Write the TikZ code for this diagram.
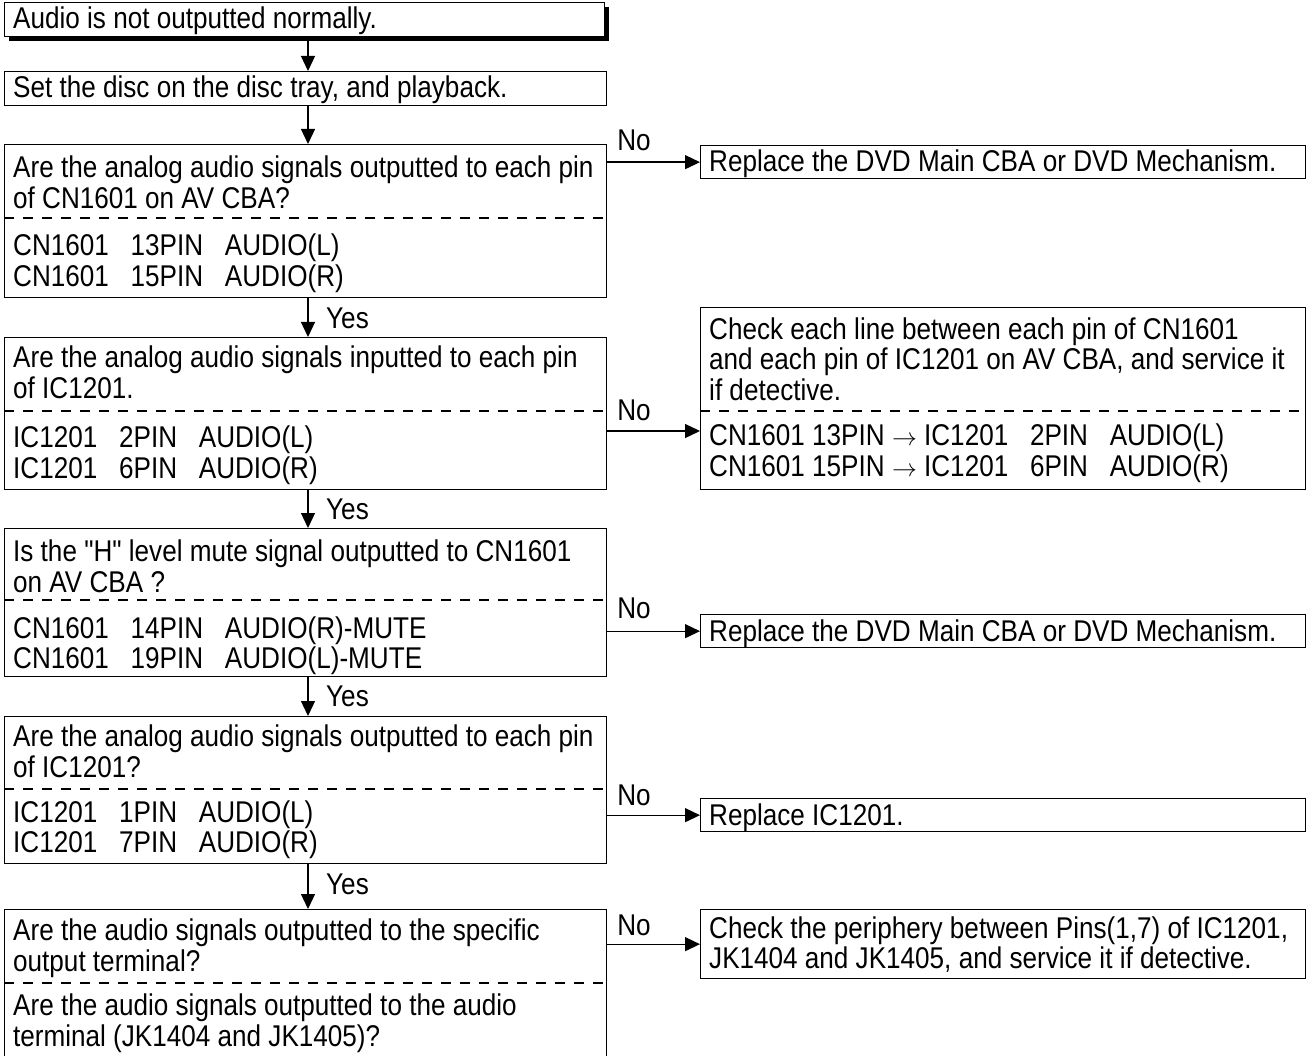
\documentclass[tikz,border=0pt]{standalone}
\usepackage{fontspec}
\setmainfont{Liberation Sans}[FakeStretch=0.87,Ligatures=TeXOff]
\usetikzlibrary{arrows.meta}
\newcommand{\fsz}{\fontsize{30}{31}\selectfont}
\newcommand{\gp}{\ \ \ }
\begin{document}
\begin{tikzpicture}[x=1pt,y=-1pt,
  box/.style={draw, line width=1.3pt, rectangle, inner sep=0pt, anchor=north west, fill=white},
  txt/.style={inner sep=0pt, anchor=base west, font=\fsz},
  lbl/.style={inner sep=0pt, anchor=base, font=\fsz},
  arr/.style={line width=1.3pt, -{Triangle[length=15pt,width=14pt]}},
  dsh/.style={line width=1.2pt, dash pattern=on 10pt off 9pt}]
\useasboundingbox (0,0) rectangle (1308,1056);
\clip (0,0) rectangle (1308,1056);
\coordinate (ax) at (308,0);
% left column boxes
\node[fill=black, inner sep=0pt, anchor=north west, minimum width=600pt, minimum height=34pt] (sh) at (9,7) {};
\node[box, minimum width=600pt, minimum height=34pt] (b1) at (4,2) {};
\node[box, minimum width=602pt, minimum height=34pt] (b2) at (4,71) {};
\node[box, minimum width=602pt, minimum height=153pt] (b3) at (4,144) {};
\node[box, minimum width=602pt, minimum height=152pt] (b4) at (4,337) {};
\node[box, minimum width=602pt, minimum height=148pt] (b5) at (4,528) {};
\node[box, minimum width=602pt, minimum height=147pt] (b6) at (4,716) {};
\node[box, minimum width=602pt, minimum height=170pt] (b7) at (4,909) {};
% right column boxes
\node[box, minimum width=605pt, minimum height=33pt] (r1) at (700,145) {};
\node[box, minimum width=605pt, minimum height=182pt] (r2) at (700,307) {};
\node[box, minimum width=605pt, minimum height=33pt] (r3) at (700,614) {};
\node[box, minimum width=605pt, minimum height=33pt] (r4) at (700,798) {};
\node[box, minimum width=605pt, minimum height=69pt] (r5) at (700,909) {};
% dashed dividers
\draw[dsh] (b3.west |- 0,218) -- (b3.east |- 0,218);
\draw[dsh] (b4.west |- 0,411) -- (b4.east |- 0,411);
\draw[dsh] (b5.west |- 0,600) -- (b5.east |- 0,600);
\draw[dsh] (b6.west |- 0,789) -- (b6.east |- 0,789);
\draw[dsh] (b7.west |- 0,983) -- (b7.east |- 0,983);
\draw[dsh] (r2.west |- 0,411) -- (r2.east |- 0,411);
% texts
\node[txt] (t1) at (13,29) {Audio is not outputted normally.};
\node[txt] (t2) at (13,98) {Set the disc on the disc tray, and playback.};
\node[txt] (t3a) at (13,178) {Are the analog audio signals outputted to each pin};
\node[txt] (t3b) at (13,209) {of CN1601 on AV CBA?};
\node[txt] (t3c) at (13,256) {CN1601\gp 13PIN\gp AUDIO(L)};
\node[txt] (t3d) at (13,287) {CN1601\gp 15PIN\gp AUDIO(R)};
\node[txt] (t4a) at (13,367) {Are the analog audio signals inputted to each pin};
\node[txt] (t4b) at (13,398) {of IC1201.};
\node[txt] (t4c) at (13,447) {IC1201\gp 2PIN\gp AUDIO(L)};
\node[txt] (t4d) at (13,478) {IC1201\gp 6PIN\gp AUDIO(R)};
\node[txt] (t5a) at (13,561) {Is the "H" level mute signal outputted to CN1601};
\node[txt] (t5b) at (13,592) {on AV CBA ?};
\node[txt] (t5c) at (13,638) {CN1601\gp 14PIN\gp AUDIO(R)-MUTE};
\node[txt] (t5d) at (13,668) {CN1601\gp 19PIN\gp AUDIO(L)-MUTE};
\node[txt] (t6a) at (13,746) {Are the analog audio signals outputted to each pin};
\node[txt] (t6b) at (13,777) {of IC1201?};
\node[txt] (t6c) at (13,822) {IC1201\gp 1PIN\gp AUDIO(L)};
\node[txt] (t6d) at (13,852) {IC1201\gp 7PIN\gp AUDIO(R)};
\node[txt] (t7a) at (13,940) {Are the audio signals outputted to the specific};
\node[txt] (t7b) at (13,971) {output terminal?};
\node[txt] (t7c) at (13,1015) {Are the audio signals outputted to the audio};
\node[txt] (t7d) at (13,1046) {terminal (JK1404 and JK1405)?};
\node[txt] (s1) at (709,172) {Replace the DVD Main CBA or DVD Mechanism.};
\node[txt] (s2a) at (709,339) {Check each line between each pin of CN1601};
\node[txt] (s2b) at (709,369) {and each pin of IC1201 on AV CBA, and service it};
\node[txt] (s2c) at (709,400) {if detective.};
\node[txt] (s2d) at (709,445) {CN1601 13PIN $\rightarrow$ IC1201\gp 2PIN\gp AUDIO(L)};
\node[txt] (s2e) at (709,476) {CN1601 15PIN $\rightarrow$ IC1201\gp 6PIN\gp AUDIO(R)};
\node[txt] (s3) at (709,641) {Replace the DVD Main CBA or DVD Mechanism.};
\node[txt] (s4) at (709,825) {Replace IC1201.};
\node[txt] (s5a) at (709,938) {Check the periphery between Pins(1,7) of IC1201,};
\node[txt] (s5b) at (709,968) {JK1404 and JK1405, and service it if detective.};
% vertical arrows
\draw[arr] (ax |- sh.south) -- (ax |- b2.north);
\draw[arr] (ax |- b2.south) -- (ax |- b3.north);
\draw[arr] (ax |- b3.south) -- (ax |- b4.north);
\draw[arr] (ax |- b4.south) -- (ax |- b5.north);
\draw[arr] (ax |- b5.south) -- (ax |- b6.north);
\draw[arr] (ax |- b6.south) -- (ax |- b7.north);
\node[txt] (y1) at (326,328) {Yes};
\node[txt] (y2) at (326,519) {Yes};
\node[txt] (y3) at (326,706) {Yes};
\node[txt] (y4) at (326,894) {Yes};
% horizontal arrows
\draw[arr] (b3.east |- r1.west) -- (r1.west);
\draw[arr] (b4.east |- 0,431) -- (r2.west |- 0,431);
\draw[arr] (b5.east |- r3.west) -- (r3.west);
\draw[arr] (b6.east |- r4.west) -- (r4.west);
\draw[arr] (b7.east |- r5.west) -- (r5.west);
\node[lbl] (n1) at (634,151) {No};
\node[lbl] (n2) at (634,420) {No};
\node[lbl] (n3) at (634,618) {No};
\node[lbl] (n4) at (634,805) {No};
\node[lbl] (n5) at (634,935) {No};
\end{tikzpicture}
\end{document}
